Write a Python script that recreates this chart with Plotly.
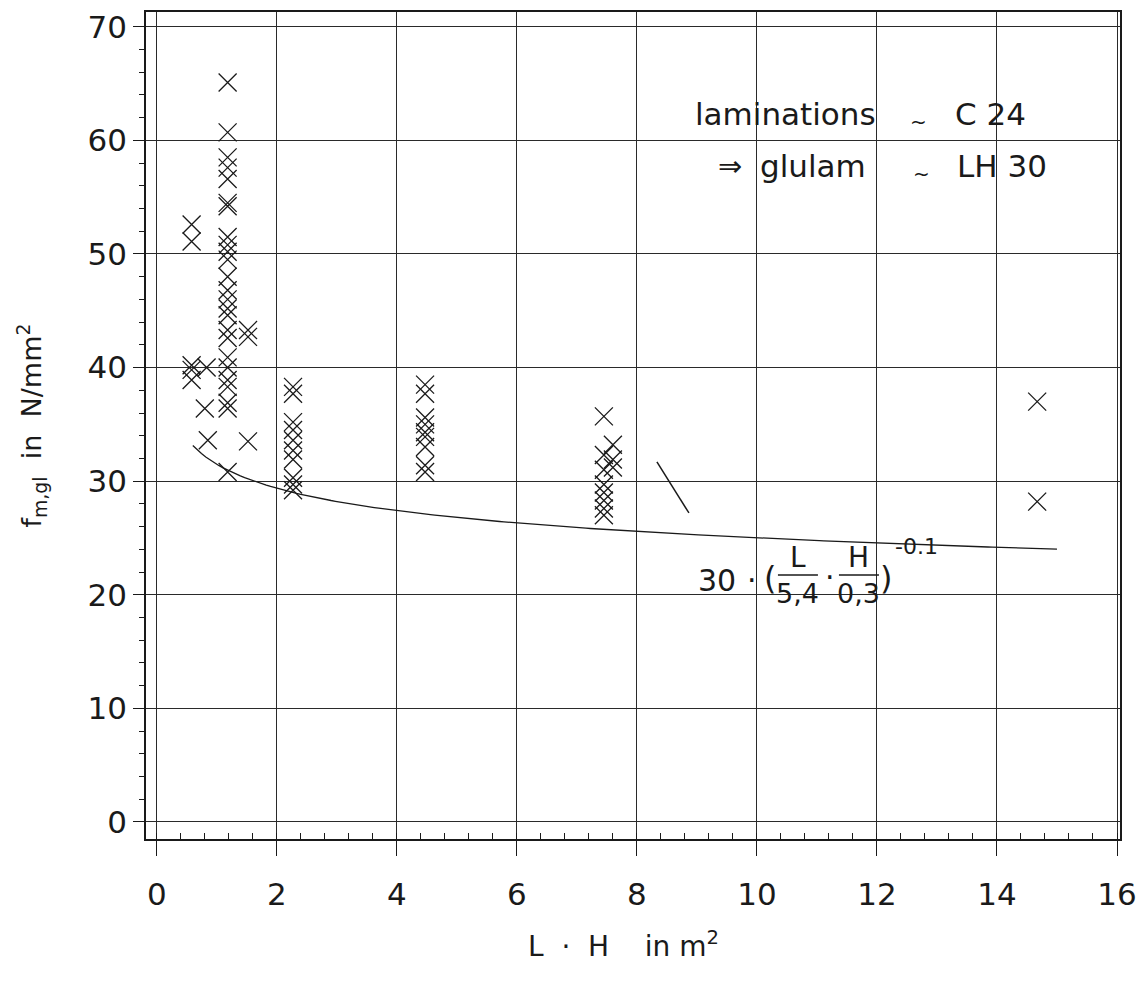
import plotly.graph_objects as go

# ---- data ----
x_a = [0.58] * 5
y_a = [52.6, 51.1, 40.2, 39.8, 38.9]
x_b = [0.83, 0.80, 0.85]
y_b = [40.0, 36.4, 33.6]
x_c = [1.18] * 25
y_c = [65.1, 60.7, 58.5, 57.6, 56.6, 54.5, 54.2, 51.5, 50.8, 50.2, 49.5, 48.0,
       46.8, 46.0, 45.2, 44.6, 43.3, 42.6, 40.9, 40.0, 38.9, 38.3, 36.9, 36.4, 30.8]
x_d = [1.52] * 3
y_d = [43.3, 42.7, 33.5]
x_e = [2.27] * 10
y_e = [38.3, 37.7, 35.2, 34.5, 33.6, 32.7, 31.9, 30.3, 29.7, 29.2]
x_f = [4.47] * 9
y_f = [38.5, 37.7, 35.6, 35.0, 34.3, 33.9, 33.0, 31.4, 30.8]
x_g = [7.45] * 8 + [7.6] * 3
y_g = [35.7, 32.3, 31.0, 29.7, 29.0, 28.3, 27.6, 27.0, 33.2, 31.9, 31.2]
x_h = [14.67, 14.67]
y_h = [37.0, 28.2]

x_pts = x_a + x_b + x_c + x_d + x_e + x_f + x_g + x_h
y_pts = y_a + y_b + y_c + y_d + y_e + y_f + y_g + y_h

# reference curve stated on the chart: 30 * (L/5.4 * H/0.3)^-0.1
f_ref, L_ref, H_ref, k_exp = 30.0, 5.4, 0.3, -0.1
curve_x = [0.6 + i * (15.0 - 0.6) / 200 for i in range(201)]
curve_y = [f_ref * (x / (L_ref * H_ref)) ** k_exp for x in curve_x]

x_ticks = [0, 2, 4, 6, 8, 10, 12, 14, 16]
y_ticks = [0, 10, 20, 30, 40, 50, 60, 70]

FONT = "DejaVu Sans"
INK = "#1a1a1a"

fig = go.Figure()
fig.add_trace(go.Scatter(x=curve_x, y=curve_y, mode="lines",
                         line=dict(color=INK, width=1.3), hoverinfo="skip"))
fig.add_trace(go.Scatter(x=x_pts, y=y_pts, mode="markers",
                         marker=dict(symbol="x-thin-open", size=18, color=INK,
                                     line=dict(color=INK, width=1.3))))

# pixel -> data helpers for annotation placement (layout only)
def dx(px):
    return (px - 157) / 60.0

def dy(py):
    return (822 - py) / 11.36

ann = []
def txt(px, py, s, size=31, xanchor="left", **kw):
    ann.append(dict(x=dx(px), y=dy(py), xref="x", yref="y", text=s, showarrow=False,
                    xanchor=xanchor, yanchor="middle",
                    font=dict(family=FONT, size=size, color=INK), **kw))

# legend-like text
txt(693, 114, "laminations")
txt(919, 122, "~", size=20, xanchor="center")
txt(953, 114, "C 24")
txt(716, 166, "⇒", size=29)
txt(758, 166, "glulam")
txt(922, 174, "~", size=20, xanchor="center")
txt(955, 166, "LH 30")

# formula
txt(696, 581, "30", size=30)
txt(752, 581, "·", size=30, xanchor="center")
txt(770, 578, "(", size=32, xanchor="center")
txt(798, 558, "L", size=28, xanchor="center")
txt(798, 594, "5,4", size=27, xanchor="center")
txt(830, 578, "·", size=30, xanchor="center")
txt(859, 558, "H", size=28, xanchor="center")
txt(859, 594, "0,3", size=27, xanchor="center")
txt(886, 578, ")", size=32, xanchor="center")
txt(893, 547, "-0.1", size=22)

shapes = [
    dict(type="line", xref="x", yref="y", x0=dx(778), x1=dx(818), y0=dy(575), y1=dy(575),
         line=dict(color=INK, width=1.5)),
    dict(type="line", xref="x", yref="y", x0=dx(839), x1=dx(879), y0=dy(575), y1=dy(575),
         line=dict(color=INK, width=1.5)),
    dict(type="line", xref="x", yref="y", x0=dx(657), x1=dx(689), y0=dy(462), y1=dy(513),
         line=dict(color=INK, width=1.5)),
]

# axis titles
ann.append(dict(x=0.49, y=-0.128, xref="paper", yref="paper", showarrow=False,
                text="L  ·  H    in m<sup>2</sup>", xanchor="center", yanchor="middle",
                font=dict(family=FONT, size=28, color=INK)))
ann.append(dict(x=-0.118, y=0.50, xref="paper", yref="paper", showarrow=False,
                text="f<sub>m,gl</sub>  in  N/mm<sup>2</sup>", textangle=-90,
                xanchor="center", yanchor="middle",
                font=dict(family=FONT, size=27, color=INK)))

axis_common = dict(showline=True, linecolor=INK, linewidth=1.5, mirror=True,
                   showgrid=True, gridcolor="#2a2a2a", gridwidth=1.3,
                   zeroline=False, ticks="outside", tickcolor=INK, tickwidth=1.2,
                   automargin=False,
                   tickfont=dict(family=FONT, size=31, color=INK))

fig.update_layout(
    width=1139, height=982,
    margin=dict(l=146, r=19, t=12, b=143),
    paper_bgcolor="white", plot_bgcolor="white",
    showlegend=False,
    xaxis=dict(range=[-0.18, 16.05], tickvals=x_ticks, ticktext=[str(v) for v in x_ticks],
               ticklen=15, ticklabelstandoff=12,
               minor=dict(dtick=0.4, tick0=0, ticks="inside", ticklen=6, tickcolor=INK,
                          showgrid=False),
               **axis_common),
    yaxis=dict(range=[-1.5, 71.3], tickvals=y_ticks, ticktext=[str(v) for v in y_ticks],
               ticklen=11, ticklabelstandoff=0,
               minor=dict(dtick=2, tick0=0, ticks="outside", ticklen=5, tickcolor=INK,
                          showgrid=False),
               **axis_common),
    annotations=ann,
    shapes=shapes,
)

fig.write_html("out.html")
